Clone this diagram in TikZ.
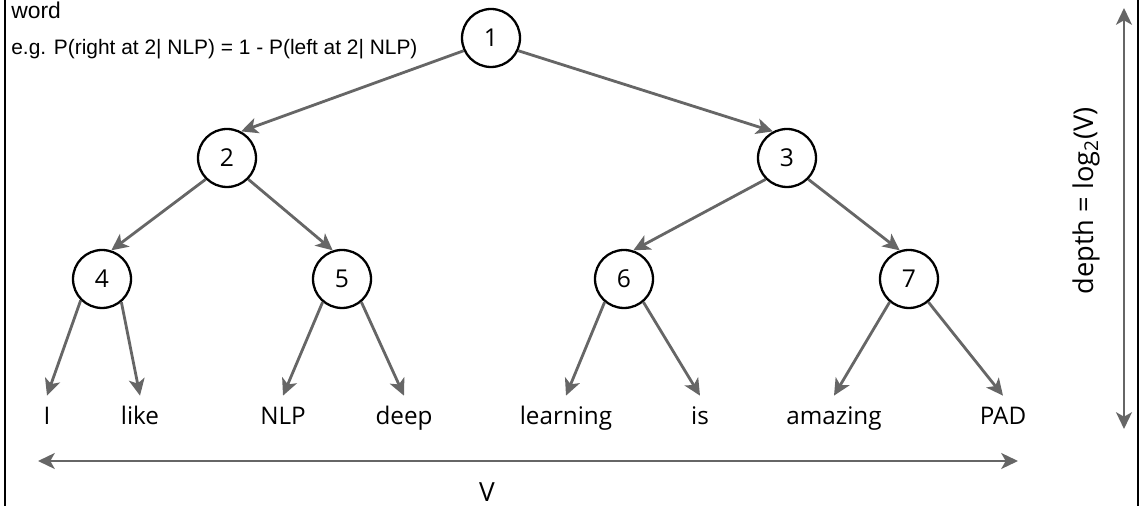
\documentclass[tikz,border=0pt]{standalone}
\usepackage{fontspec}
\setmainfont{Open Sans}
\newfontfamily\notefont{Liberation Sans}
\usetikzlibrary{arrows.meta}

\definecolor{linkgray}{HTML}{666666}
\tikzstyle{pixels}=[x=0.02cm,y=-0.02cm]
\tikzstyle{vertex}=[circle,draw=black,line width=1.3pt,minimum size=1.16cm,inner sep=0pt,font=\fontsize{14}{16}\selectfont]
\tikzstyle{leaf}=[anchor=base,inner sep=1.5pt,text height=15pt,font=\fontsize{13.8}{16}\selectfont]
\tikzstyle{link}=[draw=linkgray,line width=1.6pt,-{Stealth[length=9.5pt,width=9pt,inset=2.5pt]}]
\tikzstyle{span}=[draw=linkgray,line width=1.6pt,{Stealth[length=9.5pt,width=9pt,inset=2.5pt]}-{Stealth[length=9.5pt,width=9pt,inset=2.5pt]}]

\begin{document}
\begin{tikzpicture}[pixels]
	\useasboundingbox (0,0) rectangle (1143,506);
	\draw[line width=1.3pt] (5,0) -- (5,506);
	\draw[line width=1.3pt] (1138,0) -- (1138,506);
%
	\node[anchor=base west,inner sep=0pt,font=\notefont\fontsize{13}{15}\selectfont] (title) at (11,19) {word};
	\node[anchor=base west,inner sep=0pt,font=\notefont\fontsize{11.9}{14}\selectfont] (example) at (11,55)
					{e.g. P(right at 2| NLP) = 1 - P(left at 2| NLP)};
%
	\node[vertex] (n1) at (491,38) {1};
	\node[vertex] (n2) at (227,158) {2};
	\node[vertex] (n3) at (787,158) {3};
	\node[vertex] (n4) at (102,279) {4};
	\node[vertex] (n5) at (342,279) {5};
	\node[vertex] (n6) at (624,279) {6};
	\node[vertex] (n7) at (909,279) {7};
%
	\node[leaf] (wI) at (47,425) {I};
	\node[leaf] (wlike) at (140,425) {like};
	\node[leaf] (wNLP) at (283,425) {NLP};
	\node[leaf] (wdeep) at (404,425) {deep};
	\node[leaf] (wlearning) at (566,425) {learning};
	\node[leaf] (wis) at (700,425) {is};
	\node[leaf] (wamazing) at (834,425) {amazing};
	\node[leaf] (wPAD) at (1003,425) {PAD};
%
	\draw[link] (n1.205) -- (n2.62);
	\draw[link] (n1.335) -- (n3.118);
	\draw[link] (n2.225) -- (n4.72);
	\draw[link] (n2.315) -- (n5.108);
	\draw[link] (n3.225) -- (n6.72);
	\draw[link] (n3.315) -- (n7.108);
%
	\draw[link] (n4.225) -- (wI.north);
	\draw[link] (n4.310) -- (wlike.north);
	\draw[link] (n5.230) -- (wNLP.north);
	\draw[link] (n5.310) -- (wdeep.north);
	\draw[link] (n6.230) -- (wlearning.north);
	\draw[link] (n6.310) -- (wis.north);
	\draw[link] (n7.230) -- (wamazing.north);
	\draw[link] (n7.310) -- (wPAD.north);
%
	\coordinate (vleft) at (38,461);
	\coordinate (vright) at (1018,461);
	\draw[span] (vleft) -- (vright);
	\node[font=\fontsize{15}{18}\selectfont] (vsize) at (487,492) {V};
%
	\coordinate (dtop) at (1124,8);
	\coordinate (dbottom) at (1124,429);
	\draw[span] (dtop) -- (dbottom);
	\node[rotate=90,font=\fontsize{15.5}{18}\selectfont] (depth) at (1086,201) {depth = log\textsubscript{2}(V)};
\end{tikzpicture}
\end{document}
